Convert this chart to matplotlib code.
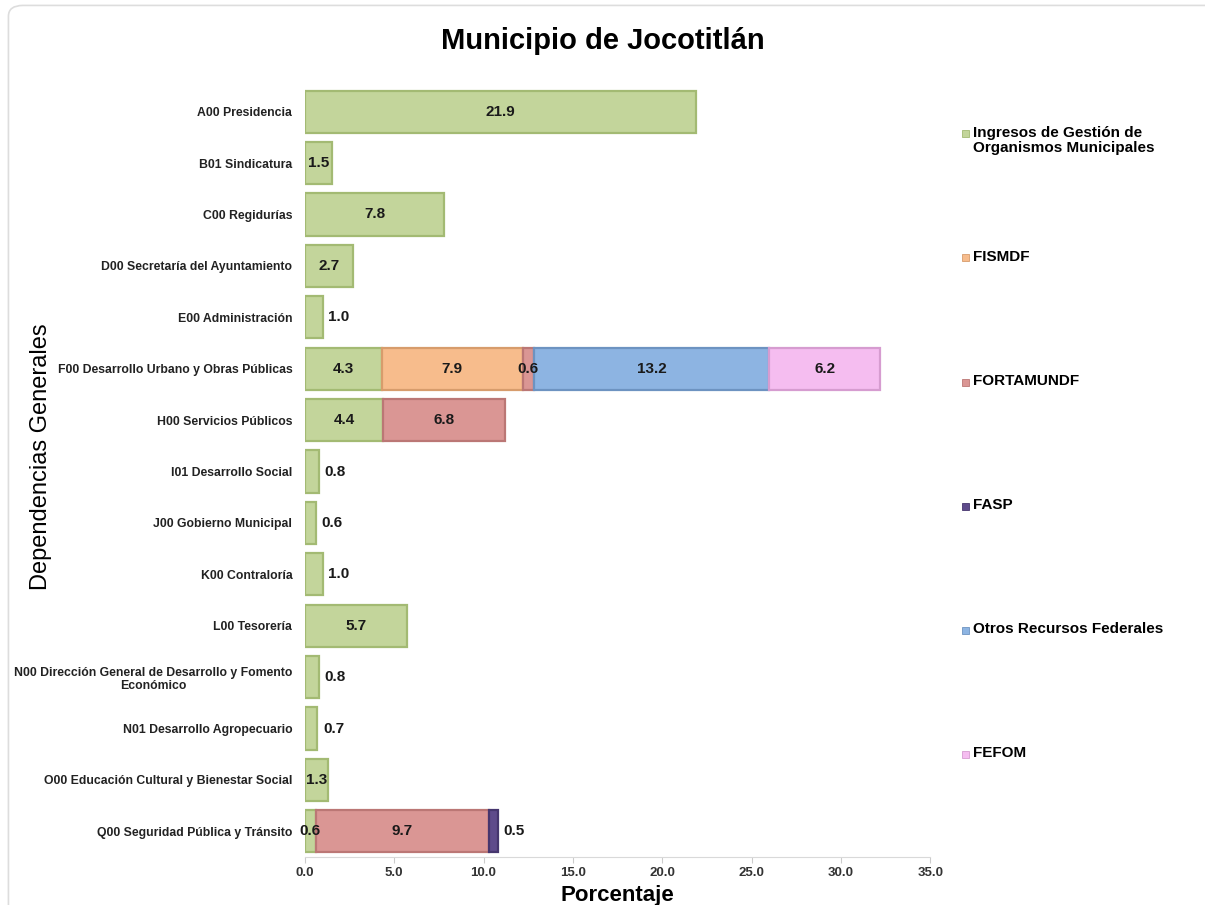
import matplotlib
matplotlib.use("Agg")
import matplotlib.pyplot as plt
from matplotlib.patches import FancyBboxPatch, Rectangle
import numpy as np

plt.rcParams["font.family"] = ["Liberation Sans", "DejaVu Sans"]

# categories (top to bottom)
dependencias = [
    "A00 Presidencia",
    "B01 Sindicatura",
    "C00 Regidurías",
    "D00 Secretaría del Ayuntamiento",
    "E00 Administración",
    "F00 Desarrollo Urbano y Obras Públicas",
    "H00 Servicios Públicos",
    "I01 Desarrollo Social",
    "J00 Gobierno Municipal",
    "K00 Contraloría",
    "L00 Tesorería",
    "N00 Dirección General de Desarrollo y Fomento\nEconómico",
    "N01 Desarrollo Agropecuario",
    "O00 Educación Cultural y Bienestar Social",
    "Q00 Seguridad Pública y Tránsito",
]

# percentages per funding source
ingresos   = [21.9, 1.5, 7.8, 2.7, 1.0, 4.3, 4.4, 0.8, 0.6, 1.0, 5.7, 0.8, 0.7, 1.3, 0.6]
fismdf     = [0, 0, 0, 0, 0, 7.9, 0, 0, 0, 0, 0, 0, 0, 0, 0]
fortamundf = [0, 0, 0, 0, 0, 0.6, 6.8, 0, 0, 0, 0, 0, 0, 0, 9.7]
fasp       = [0, 0, 0, 0, 0, 0, 0, 0, 0, 0, 0, 0, 0, 0, 0.5]
otros      = [0, 0, 0, 0, 0, 13.2, 0, 0, 0, 0, 0, 0, 0, 0, 0]
fefom      = [0, 0, 0, 0, 0, 6.2, 0, 0, 0, 0, 0, 0, 0, 0, 0]

series_names = ["Ingresos de Gestión de\nOrganismos Municipales", "FISMDF",
                "FORTAMUNDF", "FASP", "Otros Recursos Federales", "FEFOM"]
series_vals = [ingresos, fismdf, fortamundf, fasp, otros, fefom]
face_colors = ["#c3d59b", "#f7bc8c", "#da9694", "#5f4b8b", "#8db4e2", "#f5bdf0"]
edge_colors = ["#a3ba73", "#d79c6c", "#bb7775", "#46366e", "#6d93c1", "#d69cd0"]

fig = plt.figure(figsize=(12.05, 9.05), dpi=100)
fig.patches.append(FancyBboxPatch((0.007, -0.05), 1.05, 1.044,
                                  boxstyle="round,pad=0,rounding_size=0.012",
                                  transform=fig.transFigure, fill=False,
                                  edgecolor="#dddddd", linewidth=1.2))

ax = fig.add_axes([0.253, 0.053, 0.519, 0.852])
y = np.arange(len(dependencias))
allvals = np.array(series_vals, dtype=float)
cum = np.cumsum(allvals, axis=0)

for k in range(len(series_vals)):
    vals = allvals[k]
    m = vals > 0
    ax.barh(y[m], vals[m], left=(cum[k] - vals)[m], height=0.82,
            color=face_colors[k], edgecolor=edge_colors[k], linewidth=1.6)

# data labels
for k in range(len(series_vals)):
    for i in range(len(dependencias)):
        v = allvals[k, i]
        if v <= 0:
            continue
        is_last = np.all(allvals[k + 1:, i] == 0)
        if is_last and v < 1.2:
            ax.annotate(f"{v:.1f}", (cum[k, i], i), xytext=(4, 0),
                        textcoords="offset points", ha="left", va="center",
                        fontsize=11, fontweight="bold", color="#1a1a1a")
        else:
            ax.text(cum[k, i] - v / 2, i, f"{v:.1f}", ha="center", va="center",
                    fontsize=11, fontweight="bold", color="#1a1a1a")

ax.set_ylim(len(dependencias) - 0.5, -0.5)
ax.set_xlim(0, 35)
xt = np.arange(0, 35.1, 5)
ax.set_xticks(xt)
ax.set_xticklabels([f"{t:.1f}" for t in xt], fontsize=9.5, fontweight="bold",
                   color="#333333")
ax.set_yticks(y)
ax.set_yticklabels(dependencias, fontsize=8.8, fontweight="bold",
                   color="#222222", multialignment="center")
ax.tick_params(axis="y", length=0, pad=9)
ax.tick_params(axis="x", length=4, color="#cccccc")
for s in ["top", "right", "left"]:
    ax.spines[s].set_visible(False)
ax.spines["bottom"].set_color("#d9d9d9")

ax.set_xlabel("Porcentaje", fontsize=16, fontweight="bold", labelpad=4)
fig.text(0.034, 0.495, "Dependencias Generales", rotation=90, ha="center",
         va="center", fontsize=17)
fig.suptitle("Municipio de Jocotitlán", x=0.5, y=0.97, fontsize=21,
             fontweight="bold")

# legend, one entry per funding source, evenly spaced down the right side
H = 905.0
for k, name in enumerate(series_names):
    ypx = 134 + 124 * k
    yf = 1 - ypx / H
    fig.patches.append(Rectangle((962 / 1205.0, yf - 3.5 / H), 7 / 1205.0, 7 / H,
                                 transform=fig.transFigure,
                                 facecolor=face_colors[k],
                                 edgecolor=edge_colors[k], linewidth=0.6))
    fig.text(973 / 1205.0, yf + 8 / H, name, ha="left", va="top",
             fontsize=11, fontweight="bold", linespacing=1.05)

fig.savefig("out.png", dpi=100, facecolor="white")
